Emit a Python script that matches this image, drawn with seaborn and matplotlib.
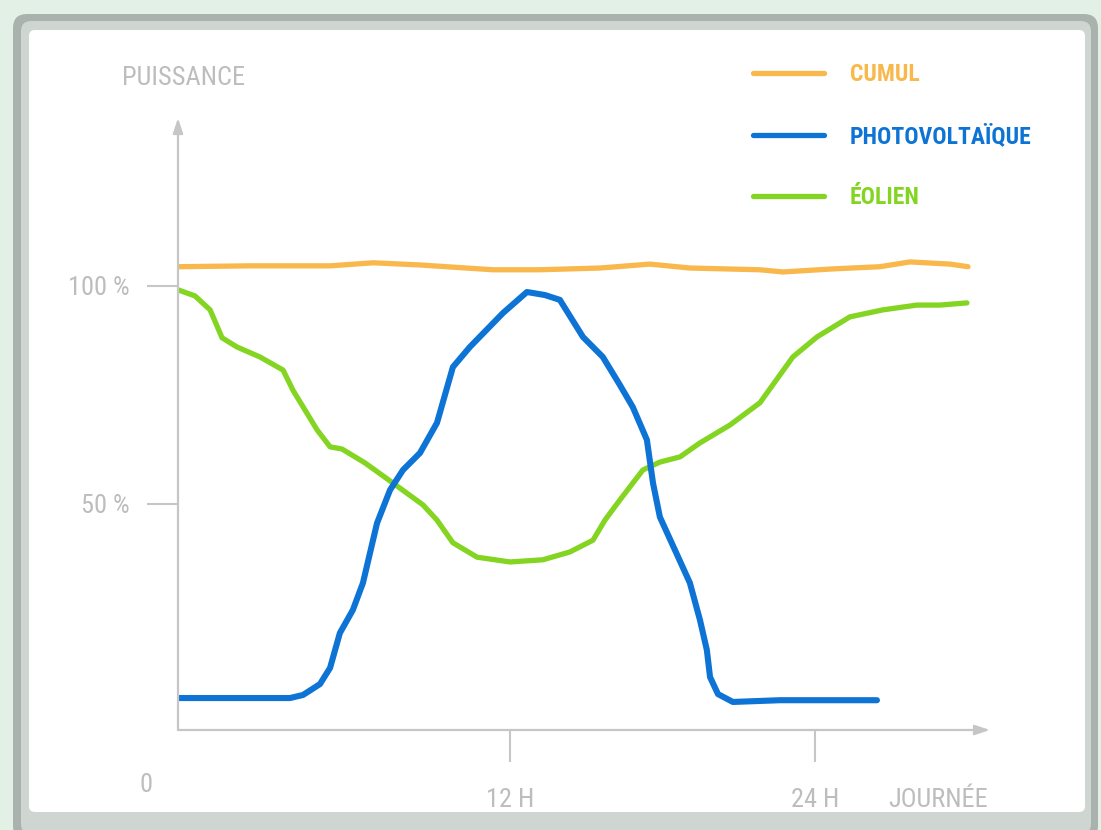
import matplotlib
matplotlib.use("Agg")
import matplotlib.pyplot as plt
from matplotlib import font_manager
from matplotlib.patches import FancyBboxPatch
import seaborn as sns
import pandas as pd

cumul_h = [0.0, 2.71, 5.73, 7.35, 9.12, 11.87, 13.64, 15.90, 17.78, 19.29, 21.93, 22.80, 24.68, 26.45, 27.58, 29.09, 29.77]
cumul_p = [104.4, 104.6, 104.6, 105.3, 104.8, 103.7, 103.7, 104.1, 105.0, 104.1, 103.7, 103.2, 103.9, 104.4, 105.5, 105.0, 104.4]

eolien_h = [0.0, 0.64, 1.21, 1.66, 2.22, 3.09, 3.96, 4.33, 5.24, 5.73, 6.18, 7.05, 8.10, 9.23, 9.76, 10.36,
            11.27, 12.51, 13.75, 14.77, 15.64, 16.09, 16.65, 17.52, 18.16, 18.92, 19.67, 20.80, 21.93, 23.17,
            24.08, 25.32, 26.56, 27.84, 28.71, 29.73]
eolien_p = [99.1, 97.7, 94.5, 88.1, 86.0, 83.7, 80.7, 76.1, 67.0, 63.1, 62.6, 59.4, 54.8, 49.8, 46.3, 41.1,
            37.8, 36.7, 37.2, 39.0, 41.7, 46.3, 50.9, 57.8, 59.6, 60.8, 64.0, 68.1, 73.2, 83.7,
            88.3, 92.9, 94.5, 95.6, 95.6, 96.1]

pv_h = [0.0, 2.34, 4.22, 4.71, 5.35, 5.73, 6.10, 6.59, 6.97, 7.50, 7.99, 8.48, 9.12, 9.76, 10.36, 11.00,
        12.25, 13.15, 13.83, 14.39, 15.26, 16.01, 16.65, 17.14, 17.67, 17.90, 18.16, 18.73, 19.29, 19.67,
        19.93, 20.05, 20.35, 20.91, 22.68, 26.34]
pv_p = [5.5, 5.5, 5.5, 6.2, 8.7, 12.4, 20.4, 25.7, 31.9, 45.6, 53.2, 57.8, 61.7, 68.6, 81.4, 86.0,
        93.8, 98.6, 97.9, 96.8, 88.3, 83.7, 77.3, 72.2, 64.7, 54.8, 47.0, 39.4, 31.9, 23.4,
        16.5, 10.3, 6.4, 4.6, 5.0, 5.0]

sources = ["CUMUL", "PHOTOVOLTAÏQUE", "ÉOLIEN"]
couleurs = {"CUMUL": "#f9b84b", "PHOTOVOLTAÏQUE": "#0d74d6", "ÉOLIEN": "#84d422"}
xticks = [12.5, 24]
xtick_labels = ["12 H", "24 H"]
yticks = [50, 100]
ytick_labels = ["50 %", "100 %"]

gris = "#bdbdbd"

# police etroite si dispo, sinon Roboto un peu plus petite
dispo = {f.name for f in font_manager.fontManager.ttflist}
police = "Roboto"
echelle = 0.84
echelle_leg = 0.875
for nom in ["Liberation Sans Narrow", "Roboto Condensed", "Open Sans Condensed"]:
    if nom in dispo:
        police = nom
        echelle = 1.0
        echelle_leg = 1.0
        break
taille = 19 * echelle
taille_leg = 17 * echelle_leg

sns.set_style("white")
plt.rcParams["font.family"] = [police, "DejaVu Sans"]

fig = plt.figure(figsize=(11.01, 8.30), dpi=100)
fig.patch.set_facecolor("#e2f0e5")

# cadre blanc avec bord gris
fig.add_artist(FancyBboxPatch((13, -10), 1085, 826, boxstyle="round,pad=0,rounding_size=14",
                              transform=None, facecolor="#a9b2ad", edgecolor="none", zorder=-3))
fig.add_artist(FancyBboxPatch((21, -4), 1070, 813, boxstyle="round,pad=0,rounding_size=10",
                              transform=None, facecolor="#cfd6d2", edgecolor="none", zorder=-2))
fig.add_artist(FancyBboxPatch((29, 18), 1056, 782, boxstyle="round,pad=0,rounding_size=6",
                              transform=None, facecolor="white", edgecolor="none", zorder=-1))

ax = fig.add_axes([178 / 1101, 100 / 830, 812 / 1101, 612 / 830])
ax.set_facecolor("none")

df_cumul = pd.DataFrame({"heure": cumul_h, "puissance": cumul_p})
df_eolien = pd.DataFrame({"heure": eolien_h, "puissance": eolien_p})
df_pv = pd.DataFrame({"heure": pv_h, "puissance": pv_p})

style = dict(sort=False, ax=ax, solid_joinstyle="round", solid_capstyle="round")
sns.lineplot(data=df_cumul, x="heure", y="puissance", color=couleurs["CUMUL"], lw=3.8,
             label="CUMUL", **style)
sns.lineplot(data=df_eolien, x="heure", y="puissance", color=couleurs["ÉOLIEN"], lw=3.8,
             label="ÉOLIEN", **style)
sns.lineplot(data=df_pv, x="heure", y="puissance", color=couleurs["PHOTOVOLTAÏQUE"], lw=4.4,
             label="PHOTOVOLTAÏQUE", **style)

ax.set_xlim(0, 30.6)
ax.set_ylim(-1.83, 138.5)
ax.set_xlabel("")
ax.set_ylabel("")

for s in ["top", "right", "left", "bottom"]:
    ax.spines[s].set_visible(False)

# axes avec fleches
for fin in [(0, 1), (1, 0)]:
    ax.annotate("", xy=fin, xytext=(0, 0), xycoords="axes fraction",
                arrowprops=dict(arrowstyle="-|>,head_length=0.9,head_width=0.3", color="#c6c6c6", lw=1.6,
                                shrinkA=0, shrinkB=0))

ax.set_xticks(xticks)
ax.set_xticklabels(xtick_labels)
ax.set_yticks(yticks)
ax.set_yticklabels(ytick_labels)
ax.tick_params(axis="x", length=23, width=1.5, color="#c6c6c6", pad=19, labelsize=taille, labelcolor=gris,
               direction="out", bottom=True)
ax.tick_params(axis="y", length=22, width=1.5, color="#c6c6c6", pad=13, labelsize=taille, labelcolor=gris,
               direction="out", left=True)

fig.text(122 / 1101, 1 - 78 / 830, "PUISSANCE", color=gris, fontsize=taille, ha="left", va="center")
fig.text(146 / 1101, 1 - 785 / 830, "0", color=gris, fontsize=taille, ha="center", va="center")
fig.text(938 / 1101, 1 - 800 / 830, "JOURNÉE", color=gris, fontsize=taille, ha="center", va="center")

handles, labels = ax.get_legend_handles_labels()
ordre = [labels.index(s) for s in sources]
leg = ax.legend([handles[i] for i in ordre], [labels[i] for i in ordre],
                loc="upper left", bbox_to_anchor=(741 / 1101, 1 - 51 / 830), bbox_transform=fig.transFigure,
                frameon=False, borderpad=0, handlelength=3.0, handletextpad=1.1, labelspacing=1.62,
                labelcolor="linecolor", prop={"weight": "bold", "size": taille_leg,
                                              "family": [police, "DejaVu Sans"]})
for line in leg.get_lines():
    line.set_linewidth(3.8)

fig.savefig("out.png", dpi=100, facecolor=fig.get_facecolor())
